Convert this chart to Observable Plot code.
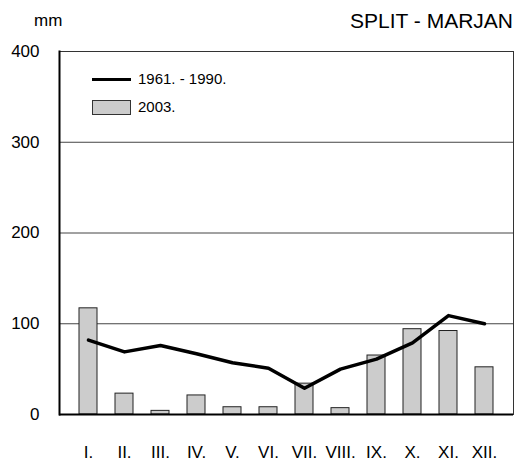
<!DOCTYPE html>
<html>
<head>
<meta charset="utf-8">
<script src="https://cdn.jsdelivr.net/npm/d3@7"></script>
<script src="https://cdn.jsdelivr.net/npm/@observablehq/plot@0.6"></script>
<style>
  html, body { margin: 0; padding: 0; background: #fff; }
  #wrap { position: relative; width: 516px; height: 463px; font-family: "Liberation Sans", Arial, sans-serif; }
  .lbl { position: absolute; color: #000; white-space: nowrap; line-height: 1; }
  .leg { position: absolute; }
</style>
</head>
<body>
<div id="wrap">
  <div class="lbl" style="left:34px; top:12px; font-size:17px;">mm</div>
  <div class="lbl" style="right:3px; top:10px; font-size:21px;">SPLIT - MARJAN</div>
  <div class="leg" style="left:92px; top:77.5px; width:39px; height:3.5px; background:#000;"></div>
  <div class="lbl" style="left:138px; top:71px; font-size:15px;">1961. - 1990.</div>
  <div class="leg" style="left:92px; top:100px; width:37px; height:13px; background:#cccccc; border:1px solid #333;"></div>
  <div class="lbl" style="left:138px; top:99px; font-size:15px;">2003.</div>
</div>
<script>
const months = ["I.", "II.", "III.", "IV.", "V.", "VI.", "VII.", "VIII.", "IX.", "X.", "XI.", "XII."];
const values2003 = [117, 23, 4, 21, 8, 8, 34, 7, 65, 94, 92, 52];
const normal6190 = [82, 69, 76, 67, 57, 51, 29, 50, 61, 79, 109, 100];
const yTicks = [0, 100, 200, 300, 400];
const gridTicks = [100, 200, 300];

const bars = months.map((m, i) => ({month: m, value: values2003[i]}));
const line = months.map((m, i) => ({month: m, value: normal6190[i]}));

const chart = Plot.plot({
  width: 516,
  height: 463,
  marginLeft: 59,
  marginRight: 3,
  marginTop: 51,
  marginBottom: 49,
  style: {fontFamily: "'Liberation Sans', Arial, sans-serif", background: "transparent"},
  x: {domain: months, padding: 0.5, label: null},
  y: {domain: [0, 400], label: null},
  marks: [
    Plot.ruleY(gridTicks, {stroke: "#444", strokeWidth: 1}),
    Plot.frame({stroke: "#333", strokeWidth: 1}),
    Plot.frame({anchor: "left", stroke: "#000", strokeWidth: 2}),
    Plot.barY(bars, {x: "month", y: "value", fill: "#cccccc", stroke: "#222", strokeWidth: 1}),
    Plot.ruleY([0], {stroke: "#000", strokeWidth: 2}),
    Plot.line(line, {x: "month", y: "value", stroke: "#000", strokeWidth: 3.5}),
    Plot.axisY({ticks: yTicks, tickSize: 0, tickPadding: 20, fontSize: 17, label: null}),
    Plot.axisX({tickSize: 0, tickPadding: 31, fontSize: 17, label: null})
  ]
});
chart.style.position = "absolute";
chart.style.left = "0";
chart.style.top = "0";
document.getElementById("wrap").prepend(chart);
</script>
</body>
</html>
